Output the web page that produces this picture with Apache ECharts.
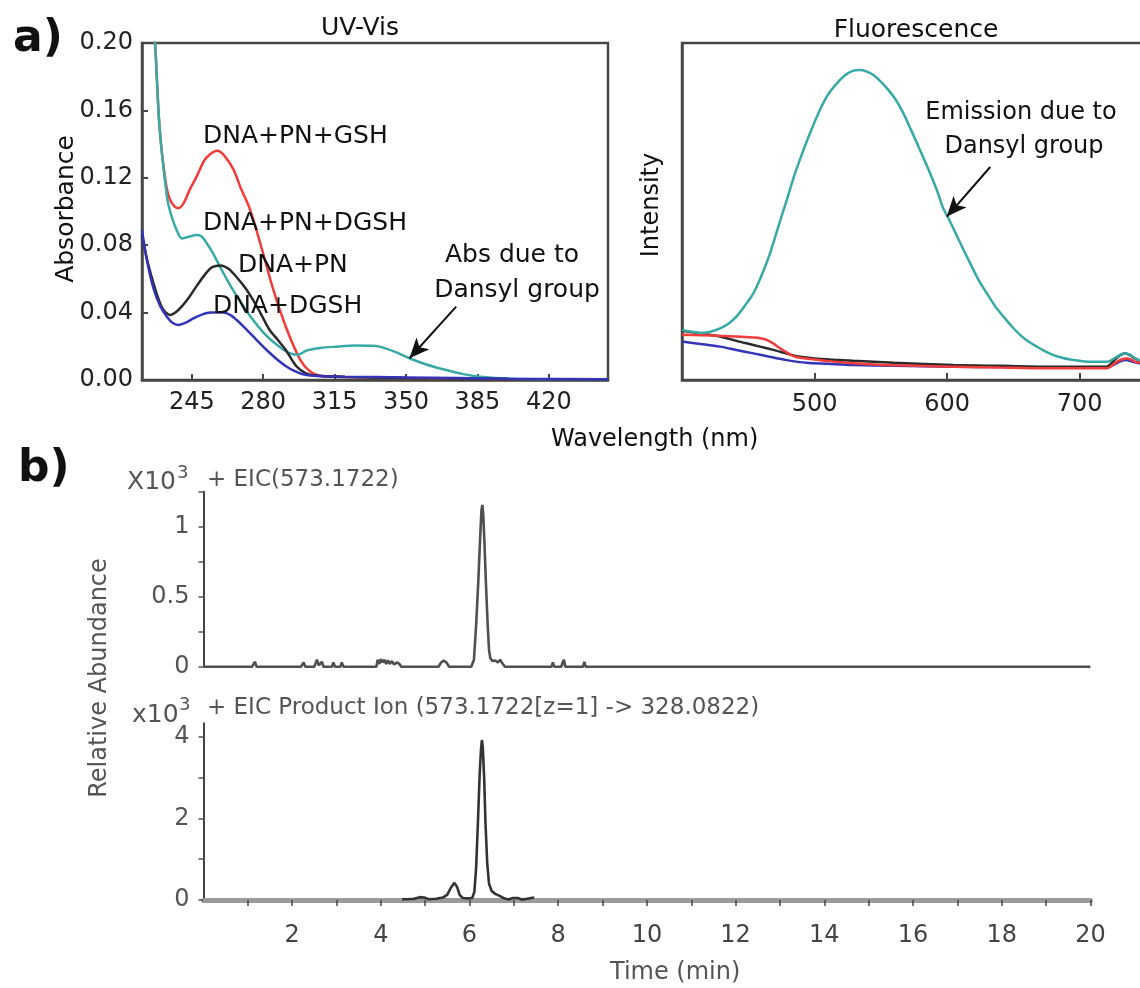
<!DOCTYPE html>
<html><head><meta charset="utf-8">
<script src="https://cdn.jsdelivr.net/npm/echarts@6/dist/echarts.min.js"></script>
<style>html,body{margin:0;padding:0;background:#fff}#c{width:1140px;height:988px}</style>
</head><body><div id="c"></div>
<script>
// ---------- DATA ----------
const uvTicks = [245, 280, 315, 350, 385, 420];
const flTicks = [500, 600, 700];
const uvRed = [[224,0.25],[227,0.2],[229.2,0.15],[232,0.119],[234,0.108],[236.5,0.103],[238.5,0.102],[241,0.105],[244,0.113],[247.5,0.121],[251,0.130],[254,0.134],[257.5,0.136],[261,0.133],[265.4,0.125],[269,0.114],[273.6,0.101],[278.6,0.081],[285.1,0.053],[291.6,0.030],[298.2,0.012],[303,0.005],[308,0.0025],[320,0.0018],[350,0.0012],[400,0.0006],[449,0.0003]];
const uvCyan = [[224,0.25],[227,0.2],[229.2,0.15],[232.8,0.109],[234.4,0.1],[236.9,0.091],[240.2,0.084],[243.5,0.085],[247.5,0.086],[250,0.085],[252.4,0.081],[255.5,0.075],[258.9,0.067],[265.4,0.053],[273.6,0.038],[281.8,0.026],[289.9,0.018],[294,0.0155],[297,0.015],[301.3,0.0175],[308,0.019],[316,0.0198],[325,0.0205],[332,0.0203],[337,0.0198],[345,0.0165],[351.7,0.0129],[360,0.0092],[369.7,0.0059],[378,0.0035],[386,0.002],[402,0.0008],[420,0.0004],[449,0.0002]];
const uvBlack = [[220.6,0.086],[223,0.072],[226.3,0.057],[229,0.047],[231.2,0.0415],[234.5,0.0386],[237,0.040],[240,0.0435],[243.6,0.049],[247.5,0.056],[251.7,0.063],[255,0.067],[259,0.068],[263,0.066],[267,0.061],[271,0.055],[275,0.0475],[279,0.039],[283,0.030],[287,0.024],[291,0.018],[296.4,0.008],[301,0.004],[306,0.0025],[320,0.0018],[350,0.0012],[400,0.0006],[449,0.0003]];
const uvBlue = [[220.6,0.089],[223,0.071],[226.3,0.054],[229.5,0.044],[232.8,0.0376],[235.5,0.034],[238.5,0.0327],[242,0.034],[245.8,0.0366],[250,0.0388],[254,0.040],[260.5,0.040],[264,0.0385],[267,0.0356],[271,0.031],[275,0.026],[279,0.021],[283,0.0163],[287,0.012],[291,0.0083],[295,0.0055],[299,0.0036],[305,0.0025],[320,0.002],[350,0.0015],[400,0.0008],[449,0.0004]];

const flCyan = [[400,14.8],[408,14.3],[416,14.0],[422,14.4],[428.7,15.3],[435,16.7],[441,18.8],[447,21.8],[453.8,25.7],[460,31],[466.4,37.6],[472.5,45.3],[479,53.4],[485,61],[491.6,68.2],[498,74.6],[504,80.1],[510,84.6],[516.8,88.0],[523,90.4],[529.3,91.8],[534.3,92.0],[539,91.6],[544.4,90.5],[549,88.9],[554.5,86.6],[561,83.3],[567,79.1],[573,74.0],[579.6,68.2],[586,62.4],[592.2,56.4],[597,51],[601,48.0],[609,41.4],[617.4,34.6],[624,29.5],[630,25.7],[636,22],[642.5,18.8],[649,15.8],[655,13.4],[661,11.5],[667.7,9.9],[674,8.5],[680.2,7.4],[686,6.7],[692.8,6.1],[700,5.7],[710.4,5.4],[720.5,5.4],[724,5.9],[728,6.9],[731,7.6],[734.3,7.9],[738,7.5],[741.9,6.4],[746,5.8],[750,5.5]];
const flRed = [[400,13.4],[415,13.3],[428.7,13.1],[441,12.9],[453.8,12.6],[459,12.4],[463.9,11.9],[469,10.8],[474,9.4],[479,8.2],[484,7.1],[489,6.6],[494,6.4],[510,5.6],[529,5.0],[560,4.4],[604.7,3.96],[640,3.7],[680,3.5],[720.5,3.5],[724,4.2],[728,5.4],[731.5,6.1],[735.5,6.4],[739,6.0],[742,5.4],[746,5.1],[750,5.0]];
const flBlack = [[400,14.6],[414,13.8],[428.7,12.9],[441,11.6],[453.8,10.4],[464,9.4],[474,8.4],[481,7.6],[489,6.9],[500,6.4],[515,6.0],[529,5.7],[560,5.1],[604.7,4.45],[640,4.2],[680,3.95],[720.5,4.0],[724,5.0],[728,6.6],[731.5,7.6],[734.3,7.9],[738,7.4],[741.9,6.3],[746,5.7],[750,5.4]];
const flBlue = [[400,11.4],[414,10.7],[428.7,9.9],[441,8.9],[453.8,7.9],[466,6.9],[479,5.9],[494,5.1],[510,4.8],[529,4.45],[560,4.2],[604.7,3.96],[680,3.8],[720.5,3.8],[726,4.6],[731,5.6],[735,5.9],[740,5.4],[746,4.9],[750,4.7]];

const timeTickValues = [1,2,3,4,5,6,7,8,9,10,11,12,13,14,15,16,17,18,19,20];
const timeLabelValues = [2,4,6,8,10,12,14,16,18,20];
const eicTop = [[0,0],[1.1,0],[1.16,0.035],[1.2,0],[2.2,0],[2.26,0.03],[2.3,0],[2.5,0],[2.56,0.05],[2.6,0.01],[2.64,0],[2.67,0.035],[2.71,0],[2.9,0],[2.93,0.03],[2.97,0],[3.09,0],[3.12,0.03],[3.16,0],[3.9,0],[3.93,0.05],[3.97,0.02],[4.0,0.055],[4.04,0.03],[4.08,0.05],[4.12,0.02],[4.16,0.045],[4.2,0.02],[4.25,0.04],[4.3,0.015],[4.36,0.03],[4.42,0.02],[4.46,0],[5.3,0],[5.36,0.03],[5.42,0.045],[5.48,0.03],[5.54,0],[6.04,0],[6.1,0.05],[6.15,0.3],[6.2,0.62],[6.24,0.92],[6.27,1.12],[6.29,1.155],[6.31,1.09],[6.34,0.86],[6.37,0.6],[6.41,0.3],[6.44,0.12],[6.47,0.06],[6.52,0.04],[6.58,0.045],[6.64,0.03],[6.69,0.05],[6.74,0.025],[6.8,0],[7.85,0],[7.88,0.03],[7.91,0],[8.07,0],[8.1,0.03],[8.13,0.05],[8.16,0],[8.56,0],[8.59,0.035],[8.62,0],[20,0]];
const eicBottom = [[4.48,0.02],[4.6,0.02],[4.75,0.03],[4.88,0.07],[4.98,0.06],[5.08,0.02],[5.25,0.03],[5.4,0.06],[5.5,0.13],[5.58,0.3],[5.66,0.42],[5.72,0.32],[5.78,0.12],[5.85,0.05],[5.95,0.04],[6.06,0.05],[6.11,0.2],[6.15,0.8],[6.19,1.9],[6.23,3.1],[6.26,3.7],[6.28,3.92],[6.3,3.75],[6.33,3.0],[6.36,1.9],[6.4,0.9],[6.44,0.4],[6.5,0.22],[6.58,0.15],[6.68,0.1],[6.78,0.04],[6.88,0.01],[6.98,0.05],[7.08,0.05],[7.18,0.01],[7.3,0.03],[7.46,0.06]];

// ---------- STYLE ----------
const FF = "'DejaVu Sans', sans-serif";
const RED = '#f23b3b', CYAN = '#38aaa6', BLACK = '#2a2a2a', BLUE = '#3434b8';
const FRAME = '#474747';

function T(text, x, y, size, color, o) {
  o = o || {};
  return { type: 'text', x: x, y: y, rotation: o.rot || 0, silent: true, z: 100,
    style: { text: text, x: 0, y: 0, font: (o.bold ? 'bold ' : '') + size + 'px ' + FF,
      fill: color, textAlign: o.align || 'left', textVerticalAlign: 'middle' } };
}
function arrow(from, to) {
  return { silent: true, animation: false, label: { show: false },
    lineStyle: { color: '#111', width: 2, type: 'solid' },
    data: [[{ coord: from, symbol: 'none' }, { coord: to, symbol: 'arrow', symbolSize: [13, 20] }]] };
}
const lineS = (name, data, color, xi, yi, extra) => Object.assign({
  type: 'line', name: name, data: data, xAxisIndex: xi, yAxisIndex: yi, showSymbol: false,
  symbol: 'none', smooth: 0.3, lineStyle: { color: color, width: 2.5 }, itemStyle: { color: color }
}, extra || {});

const chart = echarts.init(document.getElementById('c'), null, { renderer: 'canvas' });
chart.setOption({
  animation: false,
  backgroundColor: '#ffffff',
  grid: [
    { left: 142, top: 43, width: 466, height: 337, show: true, borderColor: FRAME, borderWidth: 2.5, outerBoundsMode: 'none', containLabel: false },
    { left: 682, top: 43, width: 464, height: 337, show: true, borderColor: FRAME, borderWidth: 2.5, outerBoundsMode: 'none', containLabel: false },
    { left: 203.4, top: 491.7, width: 887, height: 175, outerBoundsMode: 'none', containLabel: false },
    { left: 203.4, top: 723.3, width: 887, height: 176.7, outerBoundsMode: 'none', containLabel: false }
  ],
  xAxis: [
    { gridIndex: 0, type: 'value', min: 220.6, max: 449,
      axisLine: { lineStyle: { color: FRAME, width: 2.5 } },
      axisTick: { inside: true, length: 6, customValues: uvTicks, lineStyle: { color: FRAME, width: 2 } },
      axisLabel: { customValues: uvTicks, margin: 11, fontSize: 24, fontFamily: FF, color: '#222' },
      splitLine: { show: false } },
    { gridIndex: 1, type: 'value', min: 400, max: 750,
      axisLine: { lineStyle: { color: FRAME, width: 2.5 } },
      axisTick: { inside: true, length: 7, customValues: flTicks, lineStyle: { color: FRAME, width: 2 } },
      axisLabel: { customValues: flTicks, margin: 13, fontSize: 24, fontFamily: FF, color: '#222' },
      splitLine: { show: false } },
    { gridIndex: 2, type: 'value', min: 0, max: 20, show: false, splitLine: { show: false } },
    { gridIndex: 3, type: 'value', min: 0, max: 20, offset: 11,
      axisLine: { lineStyle: { color: '#9b9b9b', width: 5 } },
      axisTick: { customValues: timeTickValues, length: 6, lineStyle: { color: '#444', width: 1.5 } },
      axisLabel: { customValues: timeLabelValues, margin: 13, fontSize: 24, fontFamily: FF, color: '#444' },
      splitLine: { show: false } }
  ],
  yAxis: [
    { gridIndex: 0, type: 'value', min: 0, max: 0.2, interval: 0.04,
      axisLine: { show: true, lineStyle: { color: FRAME, width: 2.5 } },
      axisTick: { show: true, inside: true, length: 6, lineStyle: { color: FRAME, width: 2 } },
      axisLabel: { margin: 9, fontSize: 24, fontFamily: FF, color: '#222', formatter: v => v.toFixed(2) },
      splitLine: { show: false } },
    { gridIndex: 1, type: 'value', min: 0, max: 100,
      axisLine: { show: true, lineStyle: { color: FRAME, width: 2.5 } },
      axisTick: { show: false }, axisLabel: { show: false }, splitLine: { show: false } },
    { gridIndex: 2, type: 'value', min: 0, max: 1.25, interval: 0.25, offset: 5,
      axisLine: { show: true, lineStyle: { color: '#444', width: 2 } },
      axisTick: { show: true, length: 5, lineStyle: { color: '#555', width: 1.5 } },
      axisLabel: { margin: 9, fontSize: 24, fontFamily: FF, color: '#555',
        formatter: v => (Math.abs(v) < 1e-9 ? '0' : Math.abs(v - 0.5) < 1e-9 ? '0.5' : Math.abs(v - 1) < 1e-9 ? '1' : '') },
      splitLine: { show: false } },
    { gridIndex: 3, type: 'value', min: 0, max: 4.33, interval: 1, offset: 5,
      axisLine: { show: true, lineStyle: { color: '#444', width: 2 } },
      axisTick: { show: true, length: 5, lineStyle: { color: '#555', width: 1.5 } },
      axisLabel: { margin: 9, fontSize: 24, fontFamily: FF, color: '#555', showMaxLabel: false,
        formatter: v => (v % 2 === 0 ? String(v) : '') },
      splitLine: { show: false } }
  ],
  series: [
    lineS('DNA+PN+GSH', uvRed, RED, 0, 0),
    lineS('DNA+PN+DGSH', uvCyan, CYAN, 0, 0, { markLine: arrow([374.6, 0.0435], [351.7, 0.0129]) }),
    lineS('DNA+PN', uvBlack, BLACK, 0, 0),
    lineS('DNA+DGSH', uvBlue, BLUE, 0, 0),
    lineS('DNA+DGSH', flBlue, BLUE, 1, 1),
    lineS('DNA+PN', flBlack, BLACK, 1, 1),
    lineS('DNA+PN+GSH', flRed, RED, 1, 1),
    lineS('DNA+PN+DGSH', flCyan, CYAN, 1, 1, { markLine: arrow([632.5, 63.2], [599.8, 48.5]) }),
    lineS('EIC(573.1722)', eicTop, '#4a4a4a', 2, 2, { smooth: false, lineStyle: { color: '#505050', width: 2.6 } }),
    lineS('EIC Product Ion', eicBottom, '#333', 3, 3, { smooth: false, lineStyle: { color: '#333', width: 2.6 } })
  ],
  graphic: { elements: [
    T('a)', 13, 40, 44, '#111', { bold: true }),
    T('b)', 18, 470, 44, '#111', { bold: true }),
    T('UV-Vis', 360, 28, 25, '#111', { align: 'center' }),
    T('Fluorescence', 916, 30, 25, '#111', { align: 'center' }),
    T('Absorbance', 66, 209, 25, '#111', { align: 'center', rot: Math.PI / 2 }),
    T('Intensity', 652, 205, 24, '#111', { align: 'center', rot: Math.PI / 2 }),
    T('Wavelength (nm)', 551, 440, 24, '#111'),
    T('DNA+PN+GSH', 203, 136, 25, '#111'),
    T('DNA+PN+DGSH', 203, 223, 25, '#111'),
    T('DNA+PN', 238, 265, 25, '#111'),
    T('DNA+DGSH', 213, 306, 25, '#111'),
    T('Abs due to', 512, 255, 25, '#111', { align: 'center' }),
    T('Dansyl group', 517, 290, 25, '#111', { align: 'center' }),
    T('Emission due to', 1021, 113, 24, '#111', { align: 'center' }),
    T('Dansyl group', 1024, 147, 24, '#111', { align: 'center' }),
    T('X10', 127, 482, 25, '#555'),
    T('3', 177, 473, 18, '#555'),
    T('+ EIC(573.1722)', 207, 480, 23, '#555'),
    T('x10', 132, 715, 25, '#555'),
    T('3', 179, 705, 18, '#555'),
    T('+ EIC Product Ion (573.1722[z=1] -> 328.0822)', 207, 708, 23, '#555'),
    T('Relative Abundance', 100, 678, 24, '#555', { align: 'center', rot: Math.PI / 2 }),
    T('Time (min)', 610, 973, 24, '#555')
  ] }
});
</script></body></html>
